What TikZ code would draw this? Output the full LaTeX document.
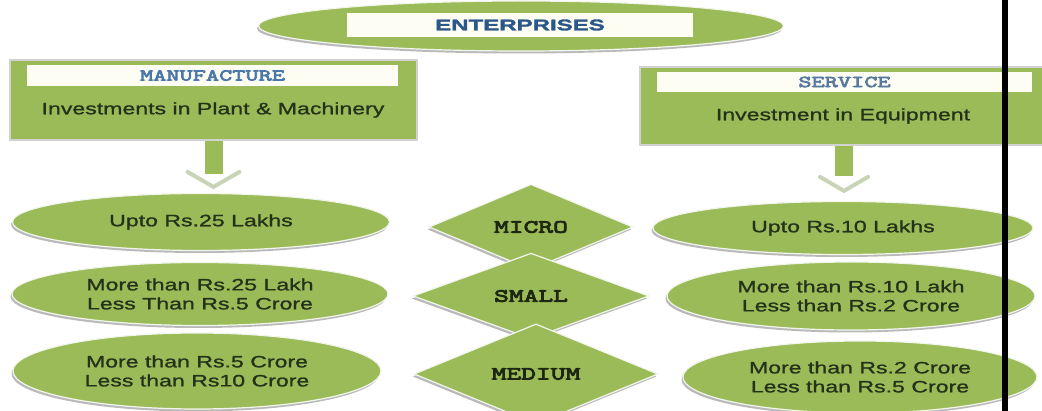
\documentclass[tikz,border=0pt]{standalone}
\usepackage{fontspec}
\setmainfont{Liberation Sans}
\newfontfamily\bodyfont[FakeStretch=1.4,FakeBold=1.2]{Liberation Sans}
\newfontfamily\tagfont[FakeStretch=1.55,FakeBold=4.5]{Latin Modern Mono}
\newfontfamily\titlefont[FakeStretch=1.55,FakeBold=2]{Liberation Sans}
\usetikzlibrary{shapes.geometric,shadows,positioning}

\definecolor{leaf}{HTML}{9BBB59}
\definecolor{pale}{HTML}{C9D4B6}
\definecolor{rim}{HTML}{F2F5EC}
\definecolor{ink}{HTML}{24321A}
\definecolor{tagink}{HTML}{1C2610}
\definecolor{navy}{HTML}{2B5888}
\definecolor{steel}{HTML}{4A78A8}
\definecolor{cream}{HTML}{FDFDF3}

\tikzset{
  shade/.style={drop shadow={shadow xshift=-1.5pt,shadow yshift=-2.5pt,fill=gray,opacity=.55}},
  oval/.style={ellipse,fill=leaf,draw=rim,line width=1.2pt,inner sep=0pt,shade,
    text=ink,align=center,font=\bodyfont\fontsize{16.5}{19}\selectfont},
  kind/.style={diamond,fill=leaf,draw=rim,line width=1.2pt,inner sep=0pt,shade,
    text=tagink,font=\tagfont\fontsize{18.5}{20}\selectfont},
  panel/.style={rectangle,fill=leaf,draw=gray!35,line width=2pt,inner sep=0pt},
  bar/.style={rectangle,fill=cream,inner sep=0pt,font=\tagfont\fontsize{16.5}{18}\selectfont},
  body/.style={text=ink,align=center,font=\bodyfont\fontsize{16.5}{19}\selectfont},
  shaft/.style={draw=leaf,line width=18pt},
  head/.style={draw=pale,line width=4pt,line cap=round,line join=miter}
}

\begin{document}
\begin{tikzpicture}[x=1pt,y=-1pt]
  \useasboundingbox (0,0) rectangle (1042,411);
  \clip (0,0) rectangle (1042,411);

  % title
  \node[oval,minimum width=525pt,minimum height=50pt] at (521,26) (ent){};
  \node[bar,minimum width=346pt,minimum height=24pt,text=navy,
        font=\titlefont\bfseries\fontsize{15.5}{18}\selectfont] at (520,25) (entbar){ENTERPRISES};

  % the two sectors
  \node[panel,minimum width=407pt,minimum height=80pt] at (213.5,100) (manu){};
  \node[bar,minimum width=371pt,minimum height=21pt,text=steel] at (212.5,75.5) (manubar){MANUFACTURE};
  \node[body] at (213,110) (manutxt){Investments in Plant \& Machinery};

  \node[panel,minimum width=408pt,minimum height=78pt] at (844,106) (serv){};
  \node[bar,minimum width=375pt,minimum height=20pt,text=steel!75!gray] at (844.5,82) (servbar){SERVICE};
  \node[body] at (843,116) (servtxt){Investment in Equipment};

  % limits for manufacture
  \node[oval,minimum width=377pt,minimum height=57pt] at (201,222) (lup){Upto Rs.25 Lakhs};
  \node[oval,minimum width=376pt,minimum height=63pt] at (200,294) (lsm){More than Rs.25 Lakh\\Less Than Rs.5 Crore};
  \node[oval,minimum width=368pt,minimum height=76pt] at (197,371) (lmd){More than Rs.5 Crore\\Less than Rs10 Crore};

  % size classes
  \node[kind,minimum width=204pt,minimum height=60pt] at (531,227) (micro){MICRO};
  \node[kind,minimum width=236pt,minimum height=66pt] at (531,296) (small){SMALL};
  \node[kind,minimum width=244pt,minimum height=68pt] at (536,374) (medium){MEDIUM};

  % limits for service
  \node[oval,minimum width=380pt,minimum height=53pt] at (843,228) (rup){Upto Rs.10 Lakhs};
  \node[oval,minimum width=368pt,minimum height=68pt] at (851,296) (rsm){More than Rs.10 Lakh\\Less than Rs.2 Crore};
  \node[oval,minimum width=354pt,minimum height=72pt] at (860,377) (rmd){More than Rs.2 Crore\\Less than Rs.5 Crore};

  % arrows down to the first row
  \coordinate (ltip) at (manu.south |- lup.north);
  \coordinate (rtip) at (serv.south |- rup.north);
  \draw[shaft] (manu.south) -- ([yshift=19pt]ltip);
  \draw[head] ([shift={(-26pt,21pt)}]ltip) -- ([yshift=6pt]ltip) -- ([shift={(26pt,21pt)}]ltip);
  \draw[shaft] (serv.south) -- ([yshift=25pt]rtip);
  \draw[head] ([shift={(-24pt,24pt)}]rtip) -- ([yshift=10pt]rtip) -- ([shift={(24pt,24pt)}]rtip);

  % scan edge
  \fill[black] (1002,0) rectangle (1008,411);
\end{tikzpicture}
\end{document}
